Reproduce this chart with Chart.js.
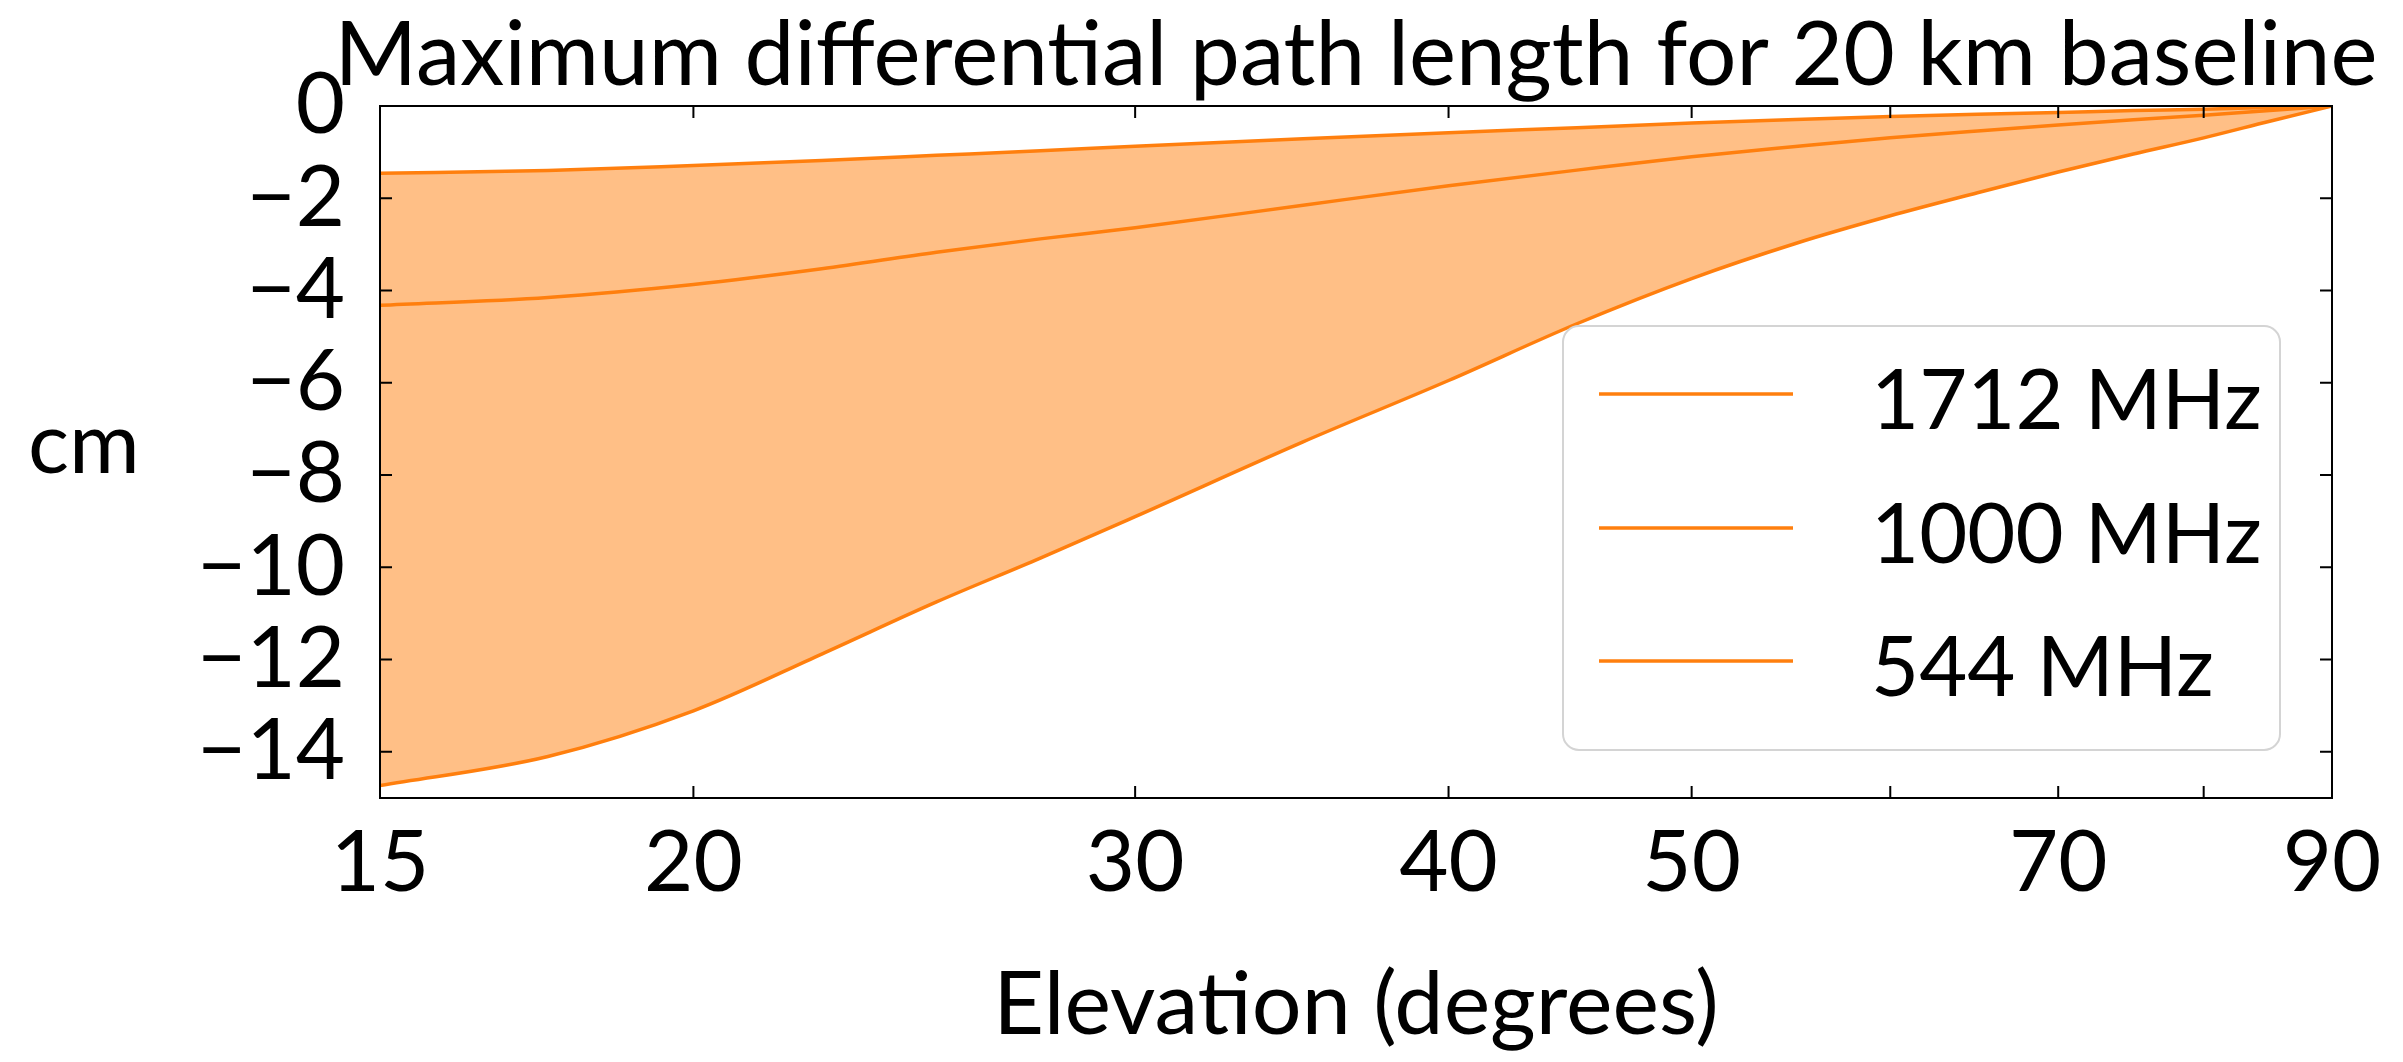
<!DOCTYPE html>
<html>
<head>
<meta charset="utf-8">
<script src="https://cdn.jsdelivr.net/npm/chart.js@4/dist/chart.umd.min.js"></script>
<style>
  html, body { margin: 0; padding: 0; background: #fff; }
  #c { display: block; }
</style>
</head>
<body>
<canvas id="c" width="2403" height="1062"></canvas>
<script>
// Maximum differential path length vs elevation, 20 km baseline
const elevation = [15, 17.5, 20, 22.5, 25, 27.5, 30, 35, 40, 45, 50, 55, 60, 65, 70, 75, 80, 85, 90];
const path1712 = [-1.46, -1.40, -1.29, -1.18, -1.07, -0.97, -0.87, -0.71, -0.58, -0.47, -0.37, -0.29, -0.23, -0.18, -0.14, -0.10, -0.07, -0.03, 0];
const path1000 = [-4.32, -4.15, -3.87, -3.53, -3.17, -2.88, -2.64, -2.15, -1.73, -1.39, -1.10, -0.88, -0.69, -0.54, -0.41, -0.30, -0.20, -0.10, 0];
const path544 = [-14.73, -14.10, -13.11, -11.88, -10.75, -9.80, -8.90, -7.28, -5.95, -4.72, -3.74, -2.98, -2.38, -1.88, -1.43, -1.04, -0.69, -0.33, 0];
const seriesLabels = ['1712 MHz', '1000 MHz', '544 MHz'];

const xTicks = [15, 20, 30, 40, 50, 60, 70, 80, 90];
const xLabeled = [15, 20, 30, 40, 50, 70, 90];
const yTicks = [-14, -12, -10, -8, -6, -4, -2, 0];

const TITLE = 'Maximum differential path length for 20 km baseline';
const ORANGE = '#ff7f0e', FILL = 'rgba(255,127,14,0.5)';
const FONT = 'Lato';

const pts = (ys) => elevation.map((e, i) => ({ x: e, y: ys[i] }));
const minus = (v) => (v < 0 ? '\u2212' + Math.abs(v) : String(v));

// title over the axes, frame, inward ticks, "cm" label and legend box
const decor = {
  id: 'decor',
  afterDraw(chart) {
    const { ctx, chartArea: a, scales } = chart;
    const L = 12;
    ctx.save();
    ctx.strokeStyle = '#000';
    ctx.lineWidth = 2;
    ctx.strokeRect(a.left, a.top, a.right - a.left, a.bottom - a.top);
    ctx.beginPath();
    xTicks.forEach((v) => {
      const px = scales.x.getPixelForValue(v);
      ctx.moveTo(px, a.bottom); ctx.lineTo(px, a.bottom - L);
      ctx.moveTo(px, a.top); ctx.lineTo(px, a.top + L);
    });
    yTicks.forEach((v) => {
      const py = scales.y.getPixelForValue(v);
      ctx.moveTo(a.left, py); ctx.lineTo(a.left + L, py);
      ctx.moveTo(a.right, py); ctx.lineTo(a.right - L, py);
    });
    ctx.stroke();

    ctx.fillStyle = '#000';
    ctx.textBaseline = 'alphabetic';
    ctx.textAlign = 'center';
    ctx.font = `89px ${FONT}`;
    ctx.fillText(TITLE, (a.left + a.right) / 2, 85);

    ctx.textAlign = 'left';
    ctx.font = `86px ${FONT}`;
    ctx.fillText('cm', 28, 473);

    // legend
    const bx = 1563, by = 326, bw = 717, bh = 424, r = 16;
    ctx.beginPath();
    ctx.roundRect(bx, by, bw, bh, r);
    ctx.fillStyle = 'rgba(255,255,255,0.8)';
    ctx.fill();
    ctx.strokeStyle = '#d4d4d4';
    ctx.lineWidth = 2;
    ctx.stroke();
    ctx.font = `83px ${FONT}`;
    const rows = [394, 528, 661];
    chart.data.datasets.forEach((ds, i) => {
      const y = rows[i];
      ctx.strokeStyle = ds.borderColor;
      ctx.lineWidth = 3.5;
      ctx.beginPath();
      ctx.moveTo(1599, y); ctx.lineTo(1793, y);
      ctx.stroke();
      ctx.fillStyle = '#000';
      ctx.fillText(ds.label, 1871, y + 35);
    });
    ctx.restore();
  },
};

Chart.defaults.font.family = FONT;
Chart.defaults.font.size = 85;
Chart.defaults.color = '#000';

new Chart(document.getElementById('c'), {
  type: 'line',
  data: {
    datasets: [
      { label: seriesLabels[0], data: pts(path1712), borderColor: ORANGE, backgroundColor: FILL, fill: '+2' },
      { label: seriesLabels[1], data: pts(path1000), borderColor: ORANGE, fill: false },
      { label: seriesLabels[2], data: pts(path544), borderColor: ORANGE, fill: false },
    ],
  },
  options: {
    responsive: false,
    animation: false,
    devicePixelRatio: 1,
    elements: { point: { radius: 0 }, line: { borderWidth: 3.5, cubicInterpolationMode: 'monotone' } },
    layout: { padding: { left: 0, right: 71, top: 106, bottom: 0 } },
    plugins: {
      legend: { display: false },
      tooltip: { enabled: false },
      title: { display: false },
    },
    scales: {
      x: {
        type: 'logarithmic',
        min: 15,
        max: 90,
        grid: { display: false, drawTicks: false },
        border: { display: false },
        afterBuildTicks: (s) => { s.ticks = xTicks.map((v) => ({ value: v })); },
        afterFit: (s) => { s.height = 264; },
        ticks: {
          autoSkip: false,
          maxRotation: 0,
          padding: 15,
          callback: (v) => (xLabeled.includes(v) ? String(v) : ''),
        },
        title: { display: true, text: 'Elevation (degrees)', padding: { top: 0, bottom: 4 }, font: { size: 88, lineHeight: 1.2 } },
      },
      y: {
        min: -15,
        max: 0,
        grid: { display: false, drawTicks: false },
        border: { display: false },
        afterBuildTicks: (s) => { s.ticks = yTicks.map((v) => ({ value: v })); },
        afterFit: (s) => { s.width = 380; },
        ticks: { autoSkip: false, padding: 35, callback: (v) => minus(v) },
      },
    },
  },
  plugins: [decor],
});
</script>
</body>
</html>
